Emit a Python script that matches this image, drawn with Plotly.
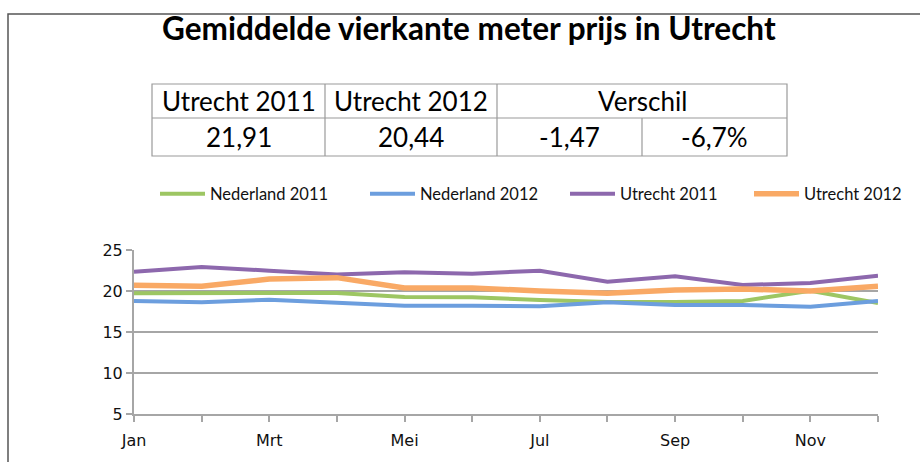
import plotly.graph_objects as go

months = ["Jan", "Feb", "Mrt", "Apr", "Mei", "Jun", "Jul", "Aug", "Sep", "Okt", "Nov", "Dec"]
nederland_2011 = [19.72, 19.76, 19.80, 19.76, 19.27, 19.23, 18.90, 18.66, 18.66, 18.78, 20.04, 18.54]
nederland_2012 = [18.78, 18.62, 18.94, 18.62, 18.21, 18.21, 18.13, 18.62, 18.29, 18.29, 18.09, 18.78]
utrecht_2011 = [22.36, 22.93, 22.48, 22.00, 22.28, 22.11, 22.48, 21.14, 21.79, 20.73, 20.98, 21.87]
utrecht_2012 = [20.69, 20.57, 21.46, 21.63, 20.37, 20.37, 20.00, 19.72, 20.12, 20.24, 20.00, 20.57]
series_names = ["Nederland 2011", "Nederland 2012", "Utrecht 2011", "Utrecht 2012"]
y_ticks = [5, 10, 15, 20, 25]

table_header = ["Utrecht 2011", "Utrecht 2012", "Verschil"]
table_values = ["21,91", "20,44", "-1,47", "-6,7%"]
title_text = "Gemiddelde vierkante meter prijs in Utrecht"

W, H = 920, 462
L, R, T, B = 134, 878, 250, 414


def px(x):
    return (x - L) / (R - L)


def py(y):
    return (B - y) / (B - T)


colors = ["#9DC663", "#6C9EDE", "#8D68AD", "#F9A965"]
widths = [4, 4, 4, 5.5]
series = [nederland_2011, nederland_2012, utrecht_2011, utrecht_2012]
legend_ids = ["legend", "legend2", "legend3", "legend4"]
legend_x = [155, 365, 565, 749]

fig = go.Figure()
for name, vals, c, w, lid in zip(series_names, series, colors, widths, legend_ids):
    fig.add_trace(go.Scatter(x=months, y=vals, mode="lines", name=name, legend=lid,
                             line=dict(color=c, width=w)))

ticktext = [m if i % 2 == 0 else "" for i, m in enumerate(months)]

legend_style = dict(orientation="h", y=py(194), xanchor="left", yanchor="middle",
                    font=dict(family="Lato", size=16.5, color="#111"),
                    itemwidth=45, bgcolor="rgba(0,0,0,0)")
legends = {}
for lid, lx in zip(legend_ids, legend_x):
    legends[lid] = dict(legend_style, x=px(lx))

fig.update_layout(
    width=W, height=H,
    margin=dict(l=L, r=W - R, t=T, b=H - B),
    paper_bgcolor="white", plot_bgcolor="white",
    showlegend=True,
    xaxis=dict(type="category", range=[0, len(months) - 1], tickmode="array",
               tickvals=months, ticktext=ticktext, showgrid=False,
               showline=True, linecolor="#A6A6A6", linewidth=2,
               ticks="outside", ticklen=6, tickwidth=1.5, tickcolor="#A6A6A6",
               tickfont=dict(family="DejaVu Sans", size=16, color="#111"),
               ticklabelstandoff=5),
    yaxis=dict(range=[5, 25], tickmode="array", tickvals=y_ticks,
               ticksuffix="\u00a0\u00a0",
               showgrid=True, gridcolor="#A6A6A6", gridwidth=1.5,
               showline=True, linecolor="#A6A6A6", linewidth=2,
               ticks="outside", ticklen=6, tickwidth=1.5, tickcolor="#A6A6A6",
               tickfont=dict(family="DejaVu Sans", size=16, color="#111"),
               zeroline=False),
    **legends,
)

shapes = []
annotations = []
# outer border
shapes.append(dict(type="rect", xref="paper", yref="paper", x0=px(8), x1=px(940),
                   y0=py(14), y1=py(480), line=dict(color="#555", width=1.5)))
# title
annotations.append(dict(text=f"<b>{title_text}</b>", xref="paper", yref="paper",
                        x=px(469), y=py(28), xanchor="center", yanchor="middle",
                        showarrow=False, font=dict(family="Lato", size=31.5, color="black")))
# table
cols = [152, 325, 497, 642, 787]
rows = [84, 118, 156]
lc = dict(color="#9A9A9A", width=1.2)
shapes.append(dict(type="rect", xref="paper", yref="paper", x0=px(cols[0]), x1=px(cols[-1]),
                   y0=py(rows[0]), y1=py(rows[-1]), line=lc))
shapes.append(dict(type="line", xref="paper", yref="paper", x0=px(cols[0]), x1=px(cols[-1]),
                   y0=py(rows[1]), y1=py(rows[1]), line=lc))
for cx in cols[1:3]:
    shapes.append(dict(type="line", xref="paper", yref="paper", x0=px(cx), x1=px(cx),
                       y0=py(rows[0]), y1=py(rows[2]), line=lc))
shapes.append(dict(type="line", xref="paper", yref="paper", x0=px(cols[3]), x1=px(cols[3]),
                   y0=py(rows[1]), y1=py(rows[2]), line=lc))
hdr_centers = [(cols[0] + cols[1]) / 2, (cols[1] + cols[2]) / 2, (cols[2] + cols[4]) / 2]
for t, cx in zip(table_header, hdr_centers):
    annotations.append(dict(text=t, xref="paper", yref="paper", x=px(cx), y=py(101),
                            xanchor="center", yanchor="middle", showarrow=False,
                            font=dict(family="Lato", size=26, color="black")))
for i, t in enumerate(table_values):
    cx = (cols[i] + cols[i + 1]) / 2
    annotations.append(dict(text=t, xref="paper", yref="paper", x=px(cx), y=py(137),
                            xanchor="center", yanchor="middle", showarrow=False,
                            font=dict(family="Lato", size=26, color="black")))

fig.update_layout(shapes=shapes, annotations=annotations)
fig.write_html("out.html", config={"displayModeBar": False},
               post_script="document.body.style.margin='0';")
